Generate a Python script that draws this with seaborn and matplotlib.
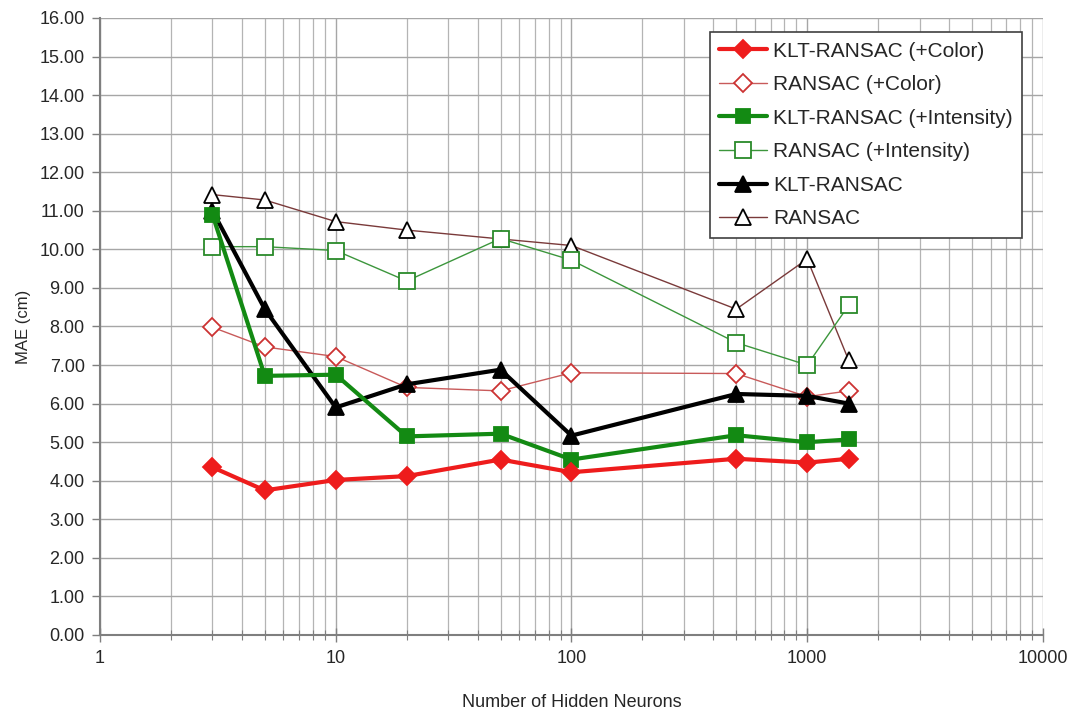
import matplotlib
matplotlib.use("Agg")
import matplotlib.pyplot as plt
import matplotlib.ticker as mticker
import numpy as np
import pandas as pd
import seaborn as sns

# Hidden-neuron counts evaluated
neurons = [3, 5, 10, 20, 50, 100, 500, 1000, 1500]

# Mean absolute error (cm) per method
klt_color = [4.35, 3.75, 4.02, 4.12, 4.55, 4.22, 4.57, 4.47, 4.57]
ransac_color = [7.98, 7.47, 7.22, 6.42, 6.33, 6.80, 6.78, 6.18, 6.33]
klt_intensity = [10.90, 6.72, 6.75, 5.15, 5.22, 4.55, 5.18, 5.00, 5.07]
ransac_intensity = [10.07, 10.07, 9.97, 9.18, 10.28, 9.72, 7.58, 7.00, 8.55]
klt_plain = [11.00, 8.45, 5.90, 6.50, 6.88, 5.17, 6.25, 6.20, 6.00]
ransac_plain = [11.42, 11.28, 10.72, 10.50, 10.27, 10.10, 8.45, 9.75, 7.12]

series_names = [
    "KLT-RANSAC (+Color)",
    "RANSAC (+Color)",
    "KLT-RANSAC (+Intensity)",
    "RANSAC (+Intensity)",
    "KLT-RANSAC",
    "RANSAC",
]
series_values = [klt_color, ransac_color, klt_intensity,
                 ransac_intensity, klt_plain, ransac_plain]

# Line / marker style for each method
styles = {
    "KLT-RANSAC (+Color)": dict(color="#ee1c1c", lw=3.0, marker="D", ms=9,
                                mfc="#ee1c1c", mec="#ee1c1c", z=8),
    "RANSAC (+Color)": dict(color="#c85a5a", lw=1.0, marker="D", ms=9,
                            mfc="white", mec="#cc3333", z=4),
    "KLT-RANSAC (+Intensity)": dict(color="#138a13", lw=3.0, marker="s", ms=10,
                                    mfc="#138a13", mec="#138a13", z=7),
    "RANSAC (+Intensity)": dict(color="#3c963c", lw=1.0, marker="s", ms=11,
                                mfc="white", mec="#2a8a2a", z=3),
    "KLT-RANSAC": dict(color="black", lw=3.0, marker="^", ms=11,
                       mfc="black", mec="black", z=6),
    "RANSAC": dict(color="#7a3a3a", lw=1.0, marker="^", ms=12,
                   mfc="white", mec="black", z=2),
}

df = pd.DataFrame({"neurons": neurons})
for name, vals in zip(series_names, series_values):
    df[name] = vals

sns.set_theme(style="white")
plt.rcParams["font.family"] = ["Liberation Sans", "DejaVu Sans"]

fig = plt.figure(figsize=(10.73, 7.11), dpi=100)
ax = fig.add_axes([0.0932, 0.1069, 0.8788, 0.8678])

handles = []
for name in series_names:
    st = styles[name]
    sns.lineplot(data=df, x="neurons", y=name, ax=ax, color=st["color"],
                 linewidth=st["lw"], marker=st["marker"], markersize=st["ms"],
                 markerfacecolor=st["mfc"], markeredgecolor=st["mec"],
                 markeredgewidth=1.3, zorder=st["z"], label=name, legend=False)
    handles.append(ax.lines[-1])

ax.set_xscale("log")
ax.set_xlim(1, 10000)
ax.set_ylim(0, 16)

ax.xaxis.set_major_locator(mticker.LogLocator(base=10))
ax.xaxis.set_minor_locator(mticker.LogLocator(base=10, subs=np.arange(2, 10)))
ax.xaxis.set_major_formatter(mticker.FuncFormatter(lambda v, p: f"{int(round(v))}"))
ax.xaxis.set_minor_formatter(mticker.NullFormatter())
ax.yaxis.set_major_locator(mticker.MultipleLocator(1))
ax.yaxis.set_major_formatter(mticker.FormatStrFormatter("%.2f"))

ax.grid(True, which="major", axis="both", color="#a6a6a6", lw=1.0)
ax.grid(True, which="minor", axis="x", color="#b4b4b4", lw=0.9)
ax.set_axisbelow(True)

for side in ("top", "right"):
    ax.spines[side].set_visible(False)
for side in ("left", "bottom"):
    ax.spines[side].set_color("#7f7f7f")
    ax.spines[side].set_linewidth(1.5)

ax.tick_params(axis="y", which="major", direction="out", length=6, width=1,
               color="#7f7f7f", labelsize=13, pad=5, left=True)
ax.tick_params(axis="x", which="major", direction="inout", length=10, width=1,
               color="#7f7f7f", labelsize=13, pad=6, bottom=True)
ax.tick_params(axis="x", which="minor", direction="inout", length=7, width=0.8,
               color="#7f7f7f", bottom=True)

ax.set_xlabel("Number of Hidden Neurons", fontsize=13, labelpad=19)
ax.set_ylabel("MAE (cm)", fontsize=12, labelpad=6)

leg = ax.legend(handles, series_names, loc="upper right",
                bbox_to_anchor=(0.978, 0.977), fontsize=15, frameon=True,
                fancybox=False, framealpha=1.0, edgecolor="#404040",
                handlelength=2.3, handletextpad=0.3, labelspacing=0.7,
                borderpad=0.45, borderaxespad=0.0)
leg.get_frame().set_linewidth(1.2)
leg.set_zorder(20)

fig.savefig("out.png", dpi=100, facecolor="white")
